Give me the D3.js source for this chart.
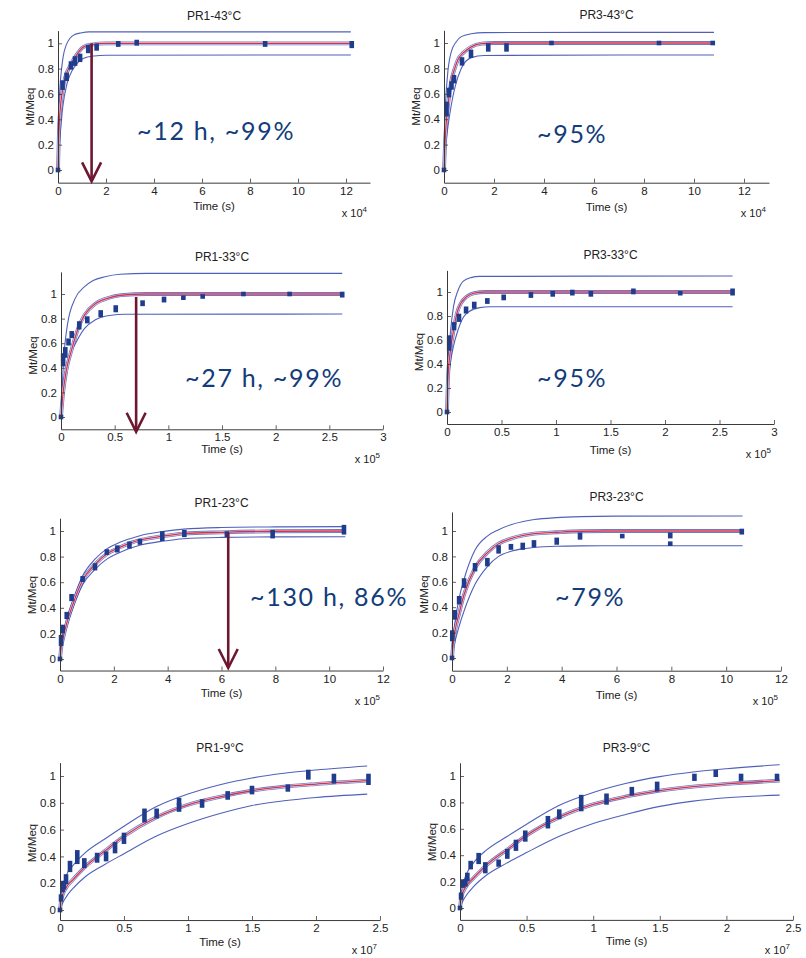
<!DOCTYPE html>
<html><head><meta charset="utf-8">
<script src="https://cdn.jsdelivr.net/npm/d3@7"></script>
<style>
html,body{margin:0;padding:0;background:#fff;}
svg{display:block;}
</style></head>
<body>
<svg id="chart" width="806" height="958"></svg>
<script>
// ---------------- DATA ----------------
const titles = ["PR1-43°C","PR3-43°C","PR1-33°C","PR3-33°C","PR1-23°C","PR3-23°C","PR1-9°C","PR3-9°C"];
const exponents = ["4","4","5","5","5","5","7","7"];
const yTicks = [0,0.2,0.4,0.6,0.8,1];
const yTickLabels = ["0","0.2","0.4","0.6","0.8","1"];
const xTicks43 = [0,2,4,6,8,10,12];
const xTickLabels43 = ["0","2","4","6","8","10","12"];
const xTicks33 = [0,0.5,1,1.5,2,2.5,3];
const xTickLabels33 = ["0","0.5","1","1.5","2","2.5","3"];
const xTicks23 = [0,2,4,6,8,10,12];
const xTickLabels23 = ["0","2","4","6","8","10","12"];
const xTicks9 = [0,0.5,1,1.5,2,2.5];
const xTickLabels9 = ["0","0.5","1","1.5","2","2.5"];

// observed points: [time, low, high]
const pr1_43_obs = [[0,0,0],[0.19,0.65,0.69],[0.36,0.72,0.75],[0.54,0.81,0.84],[0.71,0.84,0.88],[0.92,0.87,0.9],[1.26,0.94,0.97],[1.61,0.96,0.98],[2.51,0.99,1.0],[3.28,1.0,1.01],[8.63,0.99,1.0],[12.24,0.98,1.0]];
const pr3_43_obs = [[0,0,0],[0.1,0.44,0.52],[0.2,0.59,0.63],[0.3,0.65,0.68],[0.4,0.7,0.73],[0.72,0.84,0.87],[1.08,0.9,0.93],[1.77,0.95,0.98],[2.5,0.95,0.98],[4.3,1.0,1.0],[8.6,1.0,1.0],[10.75,1.0,1.0]];
const pr1_33_obs = [[0,0,0],[0.02,0.43,0.5],[0.04,0.5,0.55],[0.07,0.6,0.62],[0.1,0.66,0.68],[0.17,0.73,0.76],[0.245,0.78,0.8],[0.37,0.83,0.85],[0.51,0.87,0.89],[0.76,0.92,0.93],[0.96,0.95,0.96],[1.14,0.97,0.97],[1.32,0.98,0.98],[1.7,1.0,1.0],[2.13,1.0,1.0],[2.62,0.99,1.0]];
const pr3_33_obs = [[0,0,0],[0.02,0.53,0.62],[0.065,0.7,0.73],[0.11,0.77,0.8],[0.175,0.84,0.86],[0.25,0.88,0.9],[0.37,0.92,0.93],[0.52,0.95,0.96],[0.77,0.97,0.98],[0.97,0.98,0.99],[1.15,0.99,1.0],[1.32,0.98,0.99],[1.71,1.0,1.01],[2.14,0.99,0.99],[2.62,0.99,1.01]];
const pr1_23_obs = [[0,0,0],[0.04,0.12,0.17],[0.1,0.22,0.25],[0.25,0.33,0.35],[0.43,0.47,0.49],[0.84,0.62,0.63],[1.3,0.71,0.73],[1.74,0.83,0.84],[2.13,0.85,0.87],[2.58,0.88,0.9],[2.97,0.91,0.92],[3.8,0.94,0.98],[4.62,0.97,0.99],[6.2,0.97,0.98],[7.9,0.96,0.99],[10.55,0.99,1.03]];
const pr3_23_obs = [[0,0,0],[0.01,0.15,0.2],[0.1,0.32,0.36],[0.26,0.44,0.47],[0.44,0.57,0.61],[0.84,0.7,0.73],[1.29,0.74,0.77],[1.7,0.84,0.87],[2.15,0.87,0.88],[2.58,0.87,0.89],[2.99,0.89,0.91],[3.82,0.91,0.93],[4.67,0.95,0.97],[6.21,0.96,0.96],[7.96,0.96,0.97],[7.96,0.9,0.9],[10.57,0.99,1.0]];
const pr1_9_obs = [[0,0,0],[0.008,0.08,0.1],[0.02,0.15,0.2],[0.03,0.17,0.2],[0.047,0.21,0.25],[0.078,0.3,0.35],[0.135,0.36,0.43],[0.19,0.33,0.37],[0.29,0.37,0.41],[0.36,0.38,0.42],[0.43,0.44,0.49],[0.5,0.51,0.56],[0.66,0.67,0.74],[0.755,0.7,0.74],[0.93,0.75,0.78],[0.93,0.8,0.82],[1.11,0.78,0.81],[1.31,0.84,0.87],[1.5,0.88,0.91],[1.78,0.9,0.92],[1.94,0.99,1.03],[2.14,0.96,1.0],[2.41,0.95,1.0]];
const pr3_9_obs = [[0,0,0],[0.008,0.08,0.1],[0.02,0.17,0.2],[0.04,0.18,0.2],[0.055,0.22,0.25],[0.08,0.31,0.34],[0.14,0.35,0.4],[0.19,0.28,0.33],[0.29,0.33,0.35],[0.355,0.39,0.43],[0.42,0.45,0.5],[0.49,0.52,0.57],[0.66,0.62,0.68],[0.745,0.69,0.73],[0.91,0.75,0.84],[1.1,0.8,0.85],[1.29,0.87,0.9],[1.48,0.9,0.94],[1.76,0.98,1.0],[1.92,1.01,1.03],[2.11,0.98,1.0],[2.38,0.98,1.0]];

// fitted curve (red) and outer bounds (blue): [time, value]
const pr1_43_fit = [[0,0],[0.04,0.3],[0.08,0.45],[0.15,0.58],[0.3,0.73],[0.5,0.82],[0.78,0.91],[1.05,0.97],[1.4,0.99],[2,1.0],[12.2,1.0]];
const pr1_43_up  = [[0,0],[0.02,0.4],[0.08,0.65],[0.15,0.8],[0.22,0.9],[0.35,0.99],[0.5,1.04],[0.7,1.07],[0.92,1.08],[1.3,1.09],[12.2,1.09]];
const pr1_43_lo  = [[0,0],[0.04,0.15],[0.08,0.25],[0.2,0.5],[0.36,0.67],[0.5,0.75],[0.71,0.82],[1.05,0.88],[1.5,0.9],[2,0.906],[12.2,0.908]];
const pr3_43_fit = [[0,0],[0.05,0.25],[0.16,0.51],[0.29,0.7],[0.43,0.8],[0.56,0.87],[0.76,0.92],[1.09,0.97],[1.5,0.995],[2,1.0],[10.8,1.0]];
const pr3_43_up  = [[0,0],[0.04,0.42],[0.13,0.72],[0.29,0.93],[0.49,1.01],[0.69,1.05],[1.09,1.073],[1.6,1.082],[10.8,1.084]];
const pr3_43_lo  = [[0,0],[0.05,0.15],[0.15,0.33],[0.29,0.51],[0.45,0.66],[0.69,0.8],[1.09,0.885],[1.6,0.902],[10.8,0.906]];
const pr1_33_fit = [[0,0],[0.02,0.2],[0.05,0.38],[0.1,0.55],[0.16,0.72],[0.22,0.83],[0.32,0.92],[0.44,0.967],[0.56,0.99],[0.8,1.0],[2.62,1.0]];
const pr1_33_up  = [[0,0],[0.02,0.4],[0.06,0.75],[0.13,0.96],[0.22,1.06],[0.3,1.11],[0.41,1.14],[0.55,1.16],[0.8,1.168],[2.62,1.168]];
const pr1_33_lo  = [[0,0],[0.02,0.25],[0.04,0.36],[0.08,0.5],[0.13,0.59],[0.22,0.72],[0.32,0.79],[0.45,0.825],[0.6,0.835],[2.62,0.837]];
const pr3_33_fit = [[0,0],[0.01,0.3],[0.03,0.5],[0.06,0.68],[0.09,0.82],[0.13,0.91],[0.18,0.96],[0.25,0.99],[0.35,1.0],[2.62,1.0]];
const pr3_33_up  = [[0,0],[0.01,0.4],[0.03,0.65],[0.06,0.88],[0.1,1.01],[0.15,1.09],[0.22,1.12],[0.3,1.13],[2.62,1.133]];
const pr3_33_lo  = [[0,0],[0.01,0.22],[0.03,0.4],[0.06,0.55],[0.1,0.68],[0.15,0.79],[0.2,0.835],[0.3,0.87],[0.4,0.877],[2.62,0.877]];
const pr1_23_fit = [[0,0],[0.05,0.1],[0.1,0.15],[0.25,0.28],[0.5,0.44],[0.84,0.615],[1.3,0.74],[1.74,0.82],[2.2,0.87],[2.6,0.905],[3,0.93],[3.8,0.96],[4.6,0.98],[6,0.99],[8,0.998],[10.6,1.0]];
const pr1_23_up  = [[0,0],[0.05,0.12],[0.1,0.17],[0.25,0.31],[0.5,0.47],[0.84,0.65],[1.3,0.78],[1.74,0.86],[2.2,0.91],[2.6,0.94],[3,0.965],[3.8,0.995],[4.6,1.015],[6,1.027],[8,1.032],[10.6,1.034]];
const pr1_23_lo  = [[0,0],[0.05,0.08],[0.1,0.13],[0.25,0.25],[0.5,0.41],[0.84,0.58],[1.3,0.7],[1.74,0.78],[2.2,0.83],[2.6,0.865],[3,0.89],[3.8,0.92],[4.6,0.94],[6,0.95],[8,0.954],[10.6,0.955]];
const pr3_23_fit = [[0,0],[0.05,0.12],[0.1,0.2],[0.26,0.35],[0.44,0.5],[0.84,0.71],[1.29,0.83],[1.7,0.9],[2.15,0.94],[2.6,0.965],[3,0.98],[3.8,0.99],[4.7,0.998],[6,1.0],[10.6,1.0]];
const pr3_23_up  = [[0,0],[0.05,0.18],[0.1,0.27],[0.26,0.47],[0.44,0.62],[0.84,0.85],[1.29,0.96],[1.7,1.01],[2.15,1.05],[2.6,1.075],[3,1.09],[3.8,1.105],[4.7,1.113],[6,1.117],[10.6,1.118]];
const pr3_23_lo  = [[0,0],[0.05,0.07],[0.1,0.12],[0.26,0.25],[0.44,0.37],[0.84,0.58],[1.29,0.72],[1.7,0.8],[2.15,0.84],[2.6,0.86],[3,0.87],[3.8,0.88],[4.7,0.883],[6,0.884],[10.6,0.884]];
const pr1_9_fit = [[0,0],[0.01,0.08],[0.05,0.17],[0.1,0.225],[0.2,0.325],[0.35,0.44],[0.5,0.55],[0.75,0.69],[1.0,0.785],[1.25,0.845],[1.5,0.89],[1.75,0.92],[2.0,0.94],[2.4,0.965]];
const pr1_9_up  = [[0,0],[0.01,0.12],[0.05,0.26],[0.1,0.33],[0.2,0.43],[0.35,0.53],[0.5,0.625],[0.75,0.77],[1.0,0.865],[1.25,0.935],[1.5,0.985],[1.75,1.02],[2.0,1.045],[2.4,1.075]];
const pr1_9_lo  = [[0,0],[0.02,0.05],[0.05,0.1],[0.1,0.16],[0.2,0.25],[0.35,0.34],[0.5,0.42],[0.75,0.55],[1.0,0.645],[1.25,0.72],[1.5,0.78],[1.75,0.815],[2.0,0.84],[2.4,0.865]];
const pr3_9_fit = [[0,0],[0.01,0.08],[0.05,0.17],[0.1,0.225],[0.2,0.325],[0.35,0.44],[0.5,0.55],[0.75,0.69],[1.0,0.785],[1.25,0.845],[1.5,0.89],[1.75,0.92],[2.0,0.94],[2.4,0.965]];
const pr3_9_up  = [[0,0],[0.01,0.12],[0.05,0.26],[0.1,0.34],[0.2,0.44],[0.35,0.54],[0.5,0.635],[0.75,0.78],[1.0,0.875],[1.25,0.945],[1.5,0.995],[1.75,1.03],[2.0,1.055],[2.4,1.085]];
const pr3_9_lo  = [[0,0],[0.02,0.05],[0.05,0.1],[0.1,0.16],[0.2,0.25],[0.35,0.34],[0.5,0.42],[0.75,0.545],[1.0,0.64],[1.25,0.71],[1.5,0.77],[1.75,0.81],[2.0,0.835],[2.4,0.855]];

const annotationTexts = ["~12 h, ~99%","~95%","~27 h, ~99%","~95%","~130 h, 86%","~79%"];
// arrows: [panel index, time, from value, to value]
const arrows = [[0,1.4,1.0,-0.09],[2,0.7,0.976,-0.12],[4,6.25,0.985,-0.07]];

// ---------------- LAYOUT (pixels) ----------------
const layout = [
  {x0:58, x1:370, xmax:13, yZero:170, yUnit:126.7, ymin:-0.1, ymax:1.1, tdy:27},
  {x0:444,x1:769, xmax:13, yZero:170, yUnit:127,   ymin:-0.1, ymax:1.1, tdy:28},
  {x0:61, x1:383, xmax:3,  yZero:417, yUnit:123,   ymin:-0.1, ymax:1.18, tdy:24},
  {x0:447,x1:774, xmax:3,  yZero:412, yUnit:120,   ymin:-0.1, ymax:1.18, tdy:30},
  {x0:60, x1:383, xmax:12, yZero:659, yUnit:128,   ymin:-0.09,ymax:1.1, tdy:26},
  {x0:452,x1:781, xmax:12, yZero:658, yUnit:127,   ymin:-0.1, ymax:1.15, tdy:28},
  {x0:60, x1:380, xmax:2.5,yZero:910, yUnit:134,   ymin:-0.075,ymax:1.1, tdy:26},
  {x0:460,x1:793, xmax:2.5,yZero:908, yUnit:132,   ymin:-0.09,ymax:1.1, tdy:25}
];
const textPos = [[137,140],[537,143],[185,387],[537,387],[250,606],[555,606]];

const panelData = [
  {obs:pr1_43_obs, fit:pr1_43_fit, up:pr1_43_up, lo:pr1_43_lo, xt:xTicks43, xl:xTickLabels43},
  {obs:pr3_43_obs, fit:pr3_43_fit, up:pr3_43_up, lo:pr3_43_lo, xt:xTicks43, xl:xTickLabels43},
  {obs:pr1_33_obs, fit:pr1_33_fit, up:pr1_33_up, lo:pr1_33_lo, xt:xTicks33, xl:xTickLabels33},
  {obs:pr3_33_obs, fit:pr3_33_fit, up:pr3_33_up, lo:pr3_33_lo, xt:xTicks33, xl:xTickLabels33},
  {obs:pr1_23_obs, fit:pr1_23_fit, up:pr1_23_up, lo:pr1_23_lo, xt:xTicks23, xl:xTickLabels23},
  {obs:pr3_23_obs, fit:pr3_23_fit, up:pr3_23_up, lo:pr3_23_lo, xt:xTicks23, xl:xTickLabels23},
  {obs:pr1_9_obs,  fit:pr1_9_fit,  up:pr1_9_up,  lo:pr1_9_lo,  xt:xTicks9,  xl:xTickLabels9},
  {obs:pr3_9_obs,  fit:pr3_9_fit,  up:pr3_9_up,  lo:pr3_9_lo,  xt:xTicks9,  xl:xTickLabels9}
];

const svg = d3.select("#chart");
const FONT = "'Liberation Sans', Arial, sans-serif";
const BLUE = "#3d4fb0", RED = "#d6304e", MARK = "#1f3d8c", AX = "#3a3a3a";
const scales = [];

layout.forEach((L, i) => {
  const P = panelData[i];
  const x = d3.scaleLinear().domain([0, L.xmax]).range([L.x0, L.x1]);
  const y = d3.scaleLinear().domain([L.ymin, L.ymax])
      .range([L.yZero - L.ymin * L.yUnit, L.yZero - L.ymax * L.yUnit]);
  scales.push({x, y});
  const g = svg.append("g");
  const line = d3.line().x(d => x(d[0])).y(d => y(d[1])).curve(d3.curveMonotoneX);

  // outer bounds
  [P.up, P.lo].forEach(arr => {
    g.append("path").attr("d", line(arr)).attr("fill","none")
      .attr("stroke", BLUE).attr("stroke-width", 1.1).attr("opacity",0.9);
  });
  // confidence lines around fit (blue pair) + fit (red)
  g.append("path").attr("d", line(P.fit)).attr("fill","none")
    .attr("stroke", BLUE).attr("stroke-width", 3.8).attr("opacity",0.75);
  g.append("path").attr("d", line(P.fit)).attr("fill","none")
    .attr("stroke", "#f5eef3").attr("stroke-width", 2.2);
  g.append("path").attr("d", line(P.fit)).attr("fill","none")
    .attr("stroke", RED).attr("stroke-width", 1.3);

  // observed markers
  g.selectAll("rect.obs").data(P.obs).join("rect").attr("class","obs")
    .attr("x", d => x(d[0]) - 2.3).attr("width", 4.6)
    .attr("y", d => y(d[2]) - 2.3)
    .attr("height", d => y(d[1]) - y(d[2]) + 4.6)
    .attr("fill", MARK);

  // axes
  const xAxis = d3.axisBottom(x).tickValues(P.xt).tickFormat((d, k) => P.xl[k])
      .tickSizeInner(-4).tickSizeOuter(0).tickPadding(4);
  const yAxis = d3.axisLeft(y).tickValues(yTicks).tickFormat((d, k) => yTickLabels[k])
      .tickSizeInner(-4).tickSizeOuter(0).tickPadding(4);
  const gx = g.append("g").attr("transform", `translate(0,${y(L.ymin)})`).call(xAxis);
  const gy = g.append("g").attr("transform", `translate(${x(0)},0)`).call(yAxis);
  [gx, gy].forEach(a => {
    a.select(".domain").attr("stroke", AX).attr("stroke-width", 1);
    a.selectAll(".tick line").attr("stroke", AX).attr("stroke-width", 0.8);
    a.selectAll(".tick text").attr("fill", "#222").style("font-family", FONT).style("font-size", "11.5px");
  });

  const cx = (L.x0 + L.x1) / 2;
  // title
  g.append("text").attr("x", cx).attr("y", y(L.ymax) - 11)
    .attr("text-anchor","middle").style("font-family",FONT).style("font-size","12px")
    .attr("fill","#222").text(titles[i]);
  // x label
  g.append("text").attr("x", cx).attr("y", y(L.ymin) + L.tdy)
    .attr("text-anchor","middle").style("font-family",FONT).style("font-size","11.5px")
    .attr("fill","#222").text("Time (s)");
  // y label
  const ym = (y(0) + y(1)) / 2;
  g.append("text").attr("transform", `translate(${L.x0 - 28},${ym}) rotate(-90)`)
    .attr("text-anchor","middle").attr("dominant-baseline","central")
    .style("font-family",FONT).style("font-size","11.5px").attr("fill","#222").text("Mt/Meq");
  // exponent
  const ex = g.append("text").attr("x", L.x1 - 3).attr("y", y(L.ymin) + 34)
    .attr("text-anchor","end").style("font-family",FONT).style("font-size","11px").attr("fill","#222");
  ex.append("tspan").text("x 10");
  ex.append("tspan").attr("dy", -5).style("font-size","8px").text(exponents[i]);
});

// arrows
arrows.forEach(a => {
  const s = scales[a[0]];
  const px = s.x(a[1]), y1 = s.y(a[2]), y2 = s.y(a[3]);
  svg.append("line").attr("x1", px).attr("x2", px).attr("y1", y1).attr("y2", y2 - 1)
    .attr("stroke","#6e1731").attr("stroke-width",2.6);
  svg.append("path").attr("d", `M${px-9.5},${y2-19} L${px},${y2} L${px+9.5},${y2-19}`)
    .attr("fill","none").attr("stroke","#6e1731").attr("stroke-width",2.6)
    .attr("stroke-linejoin","miter");
});

// annotation texts
annotationTexts.forEach((t, k) => {
  svg.append("text").attr("x", textPos[k][0]).attr("y", textPos[k][1])
    .style("font-family","Lato, 'Open Sans', sans-serif").style("font-size","25px")
    .style("letter-spacing","1.7px")
    .attr("fill","#123c7a").text(t);
});
</script>
</body></html>
